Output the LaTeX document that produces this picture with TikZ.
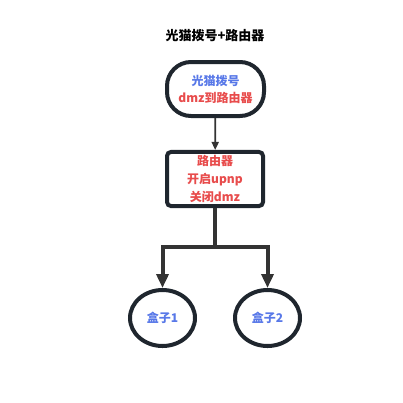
\documentclass[tikz,border=0pt]{standalone}
\usepackage{fontspec}
\setmainfont{Noto Sans CJK SC}
\usepackage{xcolor}
\usepackage{tikz}
\usetikzlibrary{arrows.meta,positioning,shapes.geometric}
\definecolor{boxline}{RGB}{31,38,46}
\definecolor{wireline}{RGB}{51,51,51}
\definecolor{txtblue}{RGB}{88,120,232}
\definecolor{txtred}{RGB}{232,76,76}

\begin{document}
\begin{tikzpicture}[x=1pt, y=-1pt, font=\fontsize{12}{17}\selectfont\bfseries]
  \useasboundingbox (0,0) rectangle (403,402);
  \node[font=\fontsize{13}{16}\selectfont\bfseries] (title) at (215,36) {光猫拨号+路由器};
  \node[draw=boxline, line width=4pt, rounded corners=24pt, fill=white, minimum width=97pt, minimum height=54pt, align=center] (modem) at (215.5,89) {\textcolor{txtblue}{光猫拨号}\\\textcolor{txtred}{dmz到路由器}};
  \node[draw=boxline, line width=4pt, rounded corners=4pt, fill=white, minimum width=96pt, minimum height=54pt, align=center, text=txtred, font=\fontsize{12}{18}\selectfont\bfseries] (router) at (215,179) {路由器\\开启upnp\\关闭dmz};
  \node[draw=boxline, line width=4pt, ellipse, minimum width=65pt, minimum height=56pt, text=txtblue] (box1) at (162.5,318) {盒子1};
  \node[draw=boxline, line width=4pt, ellipse, minimum width=65pt, minimum height=56pt, text=txtblue] (box2) at (267.5,318) {盒子2};
  \coordinate (split) at (215,247);
  \draw[-{Triangle[length=8pt,width=7pt]}, line width=1.8pt, wireline] (modem) -- (router);
  \draw[line width=4pt, wireline] (router) -- (split);
  \draw[-{Triangle[length=14pt,width=12pt]}, line width=4pt, wireline] (split) -| (box1);
  \draw[-{Triangle[length=14pt,width=12pt]}, line width=4pt, wireline] (split) -| (box2);
\end{tikzpicture}
\end{document}
